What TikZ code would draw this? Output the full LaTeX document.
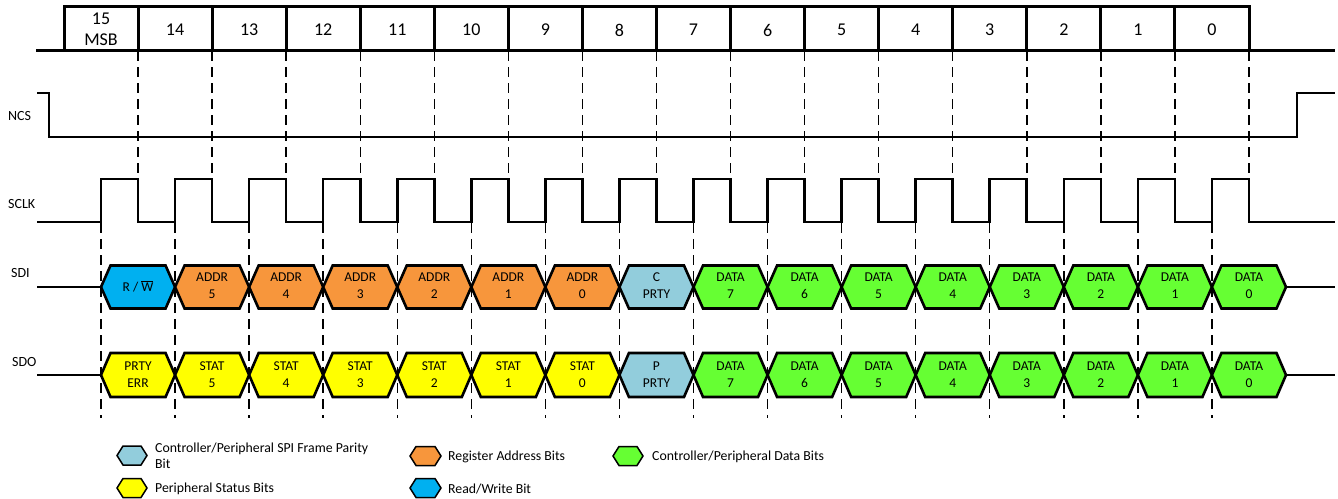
\documentclass[tikz,border=0pt]{standalone}
\usepackage{fontspec}
\setmainfont{Carlito}
\definecolor{cblue}{RGB}{0,176,240}
\definecolor{corange}{RGB}{247,150,60}
\definecolor{clblue}{RGB}{146,205,220}
\definecolor{cgreen}{RGB}{102,255,51}
\definecolor{cyellow}{RGB}{255,255,0}
% #1 left x, #2 centre y, #3 width, #4 half height, #5 inset, #6 style
\newcommand{\hexshape}[6]{%
  \draw[#6] (#1,#2) -- ({#1+#5},{#2-#4}) -- ({#1+#3-#5},{#2-#4}) -- ({#1+#3},#2)
    -- ({#1+#3-#5},{#2+#4}) -- ({#1+#5},{#2+#4}) -- cycle;}
\begin{document}
\begin{tikzpicture}[x=1pt,y=-1pt,
  sig/.style={line width=2.6pt, line join=miter, line cap=butt},
  boxline/.style={line width=3pt, line join=miter},
  gridline/.style={line width=1.4pt, dash pattern=on 10pt off 6pt},
  hexbig/.style={line width=2.6pt, line join=miter, draw=black},
  hexsmall/.style={line width=1.5pt, line join=miter, draw=black},
  hexlbl/.style={font=\fontsize{13.5}{17}\selectfont, align=center, inner sep=0pt},
  siglbl/.style={font=\fontsize{14}{16}\selectfont, anchor=west, inner sep=0pt},
  bitlbl/.style={font=\fontsize{18}{21}\selectfont, align=center, inner sep=0pt},
  leglbl/.style={font=\fontsize{13.8}{16}\selectfont, anchor=west, align=left, inner sep=0pt}]
\useasboundingbox (0,0) rectangle (1338,498);
\def\w{74.0625}
% ---------- bit field ----------
\draw[boxline] (36,50) -- (64,50);
\draw[boxline] (1249,50) -- (1335,50);
\draw[boxline] (64,6) rectangle (1249,50);
\foreach \i in {1,...,15} \draw[boxline] ({64+\w*\i},6) -- ({64+\w*\i},50);
\node[bitlbl] (b15) at ({64+\w*0.5},29) {15\\MSB};
\foreach \i in {1,...,15} {
  \pgfmathtruncatemacro{\n}{15-\i}
  \node[bitlbl] (b\n) at ({64+\w*(\i+0.5)},30) {\n};
}
% ---------- dashed guides ----------
\foreach \i in {1,...,16} \draw[gridline] ({64+\w*\i},51) -- ({64+\w*\i},179);
\foreach \i in {0,...,15} \draw[gridline] ({101+\w*\i},223) -- ({101+\w*\i},418);
% ---------- NCS ----------
\node[siglbl] (ncs) at (8,116) {NCS};
\draw[sig] (37,93) -- (49,93) -- (49,137) -- (1297,137) -- (1297,93) -- (1335,93);
% ---------- SCLK ----------
\node[siglbl] (sclk) at (8,204) {SCLK};
\draw[sig] (37,222) \foreach \i in {0,...,15} {
   -- ({101+\w*\i},222) -- ({101+\w*\i},179) -- ({138.03+\w*\i},179) -- ({138.03+\w*\i},222) }
   -- (1335,222);
% ---------- SDI ----------
\node[siglbl] (sdi) at (11,273) {SDI};
\draw[sig] (37,287) -- (101,287);
\draw[sig] (1286,287) -- (1335,287);
\foreach \c/\t [count=\i from 0] in {cblue/{R / $\overline{\hbox{W}}$},corange/{ADDR\\5},corange/{ADDR\\4},corange/{ADDR\\3},corange/{ADDR\\2},corange/{ADDR\\1},corange/{ADDR\\0},clblue/{C\\PRTY},cgreen/{DATA\\7},cgreen/{DATA\\6},cgreen/{DATA\\5},cgreen/{DATA\\4},cgreen/{DATA\\3},cgreen/{DATA\\2},cgreen/{DATA\\1},cgreen/{DATA\\0}} {
  \hexshape{101+\w*\i}{287}{\w}{21.5}{9.5}{hexbig,fill=\c}
  \node[hexlbl] (sdi\i) at ({101+\w*(\i+0.5)},286) {\t};
}
% ---------- SDO ----------
\node[siglbl] (sdo) at (12,362) {SDO};
\draw[sig] (37,375) -- (101,375);
\draw[sig] (1286,375) -- (1335,375);
\foreach \c/\t [count=\i from 0] in {cyellow/{PRTY\\ERR},cyellow/{STAT\\5},cyellow/{STAT\\4},cyellow/{STAT\\3},cyellow/{STAT\\2},cyellow/{STAT\\1},cyellow/{STAT\\0},clblue/{P\\PRTY},cgreen/{DATA\\7},cgreen/{DATA\\6},cgreen/{DATA\\5},cgreen/{DATA\\4},cgreen/{DATA\\3},cgreen/{DATA\\2},cgreen/{DATA\\1},cgreen/{DATA\\0}} {
  \hexshape{101+\w*\i}{375}{\w}{22}{9.5}{hexbig,fill=\c}
  \node[hexlbl] (sdo\i) at ({101+\w*(\i+0.5)},375) {\t};
}
% ---------- legend ----------
\hexshape{117}{455.5}{30}{9.5}{6}{hexsmall,fill=clblue}
\node[leglbl] (lg1) at (155,456) {Controller/Peripheral SPI Frame Parity\\Bit};
\hexshape{117}{488}{30}{9.5}{6}{hexsmall,fill=cyellow}
\node[leglbl] (lg2) at (155,489) {Peripheral Status Bits};
\hexshape{410}{456}{31}{9.5}{6}{hexsmall,fill=corange}
\node[leglbl] (lg3) at (448,457) {Register Address Bits};
\hexshape{410}{488}{31}{9.5}{6}{hexsmall,fill=cblue}
\node[leglbl] (lg4) at (448,489) {Read/Write Bit};
\hexshape{613}{456}{30}{9.5}{6}{hexsmall,fill=cgreen}
\node[leglbl] (lg5) at (652,457) {Controller/Peripheral Data Bits};
\end{tikzpicture}
\end{document}
